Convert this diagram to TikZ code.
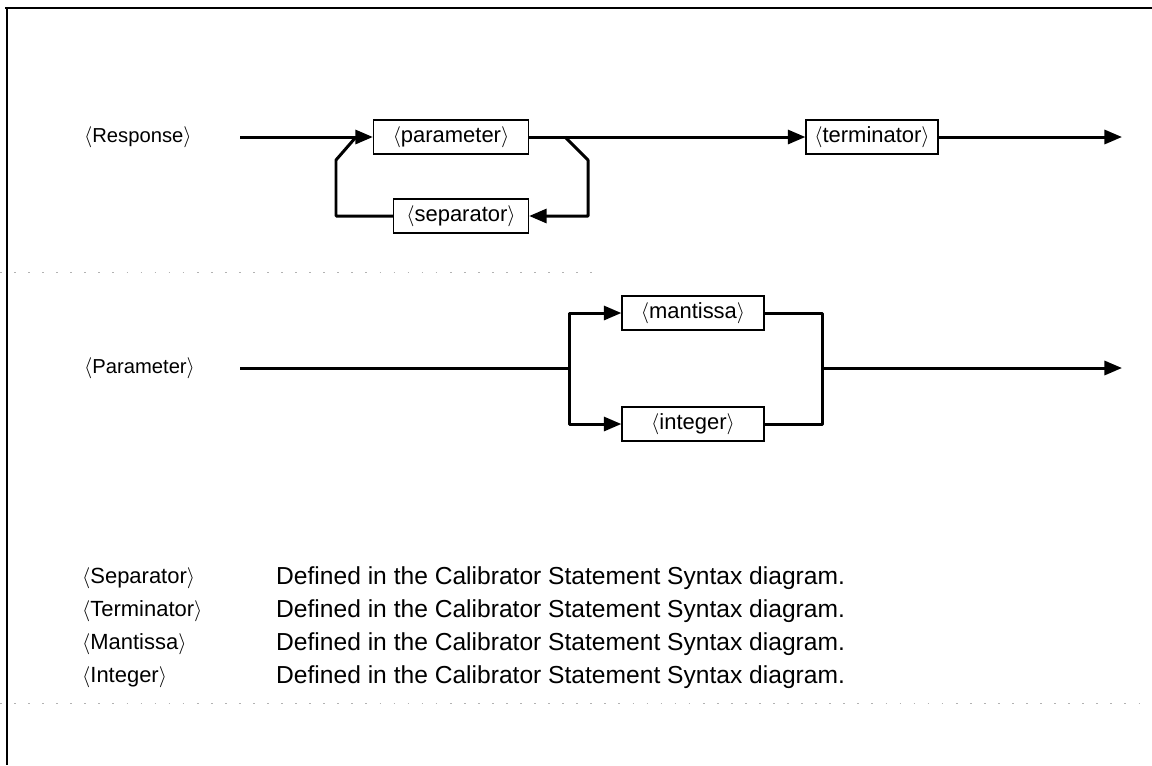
\documentclass[tikz,border=0pt]{standalone}
\usepackage{fontspec}
\setmainfont{Liberation Sans}
\usetikzlibrary{arrows.meta}
\newcommand{\ang}[1]{$\langle$#1$\rangle$}
\tikzset{
  syn/.style={draw, line width=0.7pt, minimum width={#1*0.02cm}, minimum height=0.68cm, inner sep=0pt, font=\fontsize{12.5}{15}\selectfont},
  flow/.style={line width=1.7pt, line join=round},
  tip/.style={-{Triangle[length=10pt,width=8pt]}},
  lbl/.style={anchor=west, font=\fontsize{11.5}{13}\selectfont},
  deflbl/.style={anchor=west, font=\fontsize{12.5}{15}\selectfont},
  deftxt/.style={anchor=west, font=\fontsize{14}{16}\selectfont},
  gapline/.style={gray!60, line width=0.5pt, dash pattern=on 1pt off 7pt}
}
\begin{document}
\begin{tikzpicture}[x=0.02cm, y=-0.02cm]
\useasboundingbox (0,0) rectangle (1152,765);
% frame
\draw [line width=1.4pt] (5,8) -- (1152,8);
\draw [line width=1.4pt] (7,8) -- (7,765);
\draw [gapline] (0,272) -- (600,272);
\draw [gapline] (0,703) -- (1152,703);
% (Response)
\node [lbl] (resp) at (78,137) {\ang{Response}};
\coordinate (r0) at (240,137);
\node [syn=155] (param) at (451,137) {\ang{parameter}};
\node [syn=135] (sep) at (461,216) {\ang{separator}};
\node [syn=132] (term) at (872,137) {\ang{terminator}};
\coordinate (r1) at (1122,137);
\draw [flow,tip] (r0) -- (param.west);
\draw [flow,tip] (param.east) -- (term.west);
\draw [flow,tip] (term.east) -- (r1);
\draw [flow] (sep.west) -- (336,216) -- (336,160) -- (356,137);
\draw [flow,tip] (565,137) -- (588,160) -- (588,216) -- (sep.east);
% (Parameter)
\node [lbl] (parm) at (78,368) {\ang{Parameter}};
\coordinate (p0) at (240,368);
\coordinate (split) at (569,368);
\coordinate (join) at (822,368);
\coordinate (p1) at (1122,368);
\node [syn=142] (mant) at (693,313) {\ang{mantissa}};
\node [syn=142] (int) at (693,424) {\ang{integer}};
\draw [flow] (p0) -- (split);
\draw [flow,tip] (split) |- (mant.west);
\draw [flow,tip] (split) |- (int.west);
\draw [flow] (mant.east) -| (join);
\draw [flow] (int.east) -| (join);
\draw [flow,tip] (join) -- (p1);
% definitions
\foreach \nm [count=\i] in {Separator,Terminator,Mantissa,Integer} {
  \node [deflbl] (def\i) at (76,545+33*\i) {\ang{\nm}};
  \node [deftxt] (txt\i) at (270,545+33*\i) {Defined in the Calibrator Statement Syntax diagram.};
}
\end{tikzpicture}
\end{document}
